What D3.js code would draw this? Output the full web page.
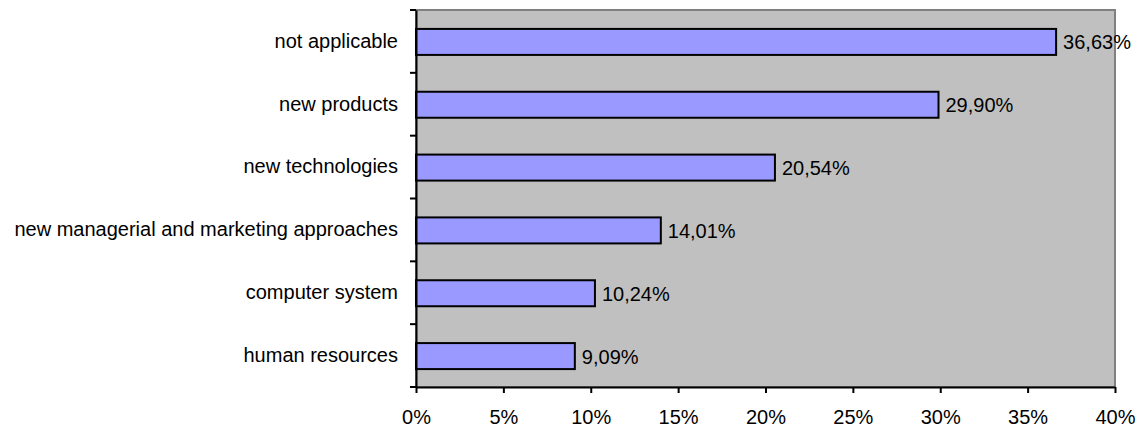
<!DOCTYPE html>
<html><head><meta charset="utf-8">
<script src="https://cdn.jsdelivr.net/npm/d3@7"></script>
<style>body{margin:0;background:#fff}svg{display:block;font-family:"Liberation Sans",Arial,sans-serif}</style>
</head><body><svg id="c" width="1141" height="430"></svg>
<script>
const categories = ["not applicable","new products","new technologies","new managerial and marketing approaches","computer system","human resources"];
const values = [36.63, 29.90, 20.54, 14.01, 10.24, 9.09];
const valueLabels = ["36,63%","29,90%","20,54%","14,01%","10,24%","9,09%"];
const xTicks = [0,5,10,15,20,25,30,35,40];

const svg = d3.select("#c");
const L=416, R=1115, T=10, B=387;
const FS = 20;
const x = d3.scaleLinear().domain([0,40]).range([L,R]);
const y = d3.scaleBand().domain(categories).range([T,B]).padding(0);
const barH = 26;

svg.append("rect").attr("x",L).attr("y",T).attr("width",R-L).attr("height",B-T)
  .attr("fill","#c0c0c0").attr("stroke","#808080").attr("stroke-width",2);

svg.selectAll("rect.bar").data(values).enter().append("rect").attr("class","bar")
  .attr("x",x(0)).attr("y",(d,i)=>y(categories[i])+(y.bandwidth()-barH)/2+0.5)
  .attr("width",d=>x(d)-x(0)).attr("height",barH)
  .attr("fill","#9999ff").attr("stroke","#000").attr("stroke-width",2);

svg.selectAll("text.vl").data(values).enter().append("text").attr("class","vl")
  .attr("x",d=>x(d)+7).attr("y",(d,i)=>y(categories[i])+y.bandwidth()/2+1)
  .attr("dy","0.35em").attr("font-size",FS).attr("fill","#000")
  .text((d,i)=>valueLabels[i]);

// x axis
const xa = svg.append("g").attr("transform",`translate(0,${B})`)
  .call(d3.axisBottom(x).tickValues(xTicks).tickFormat(d=>d+"%").tickSize(6).tickPadding(17).tickSizeOuter(0));
xa.select(".domain").attr("stroke","#000").attr("stroke-width",2);
xa.selectAll(".tick line").attr("stroke","#000").attr("stroke-width",2);
xa.selectAll("text").attr("font-size",FS).attr("fill","#000").attr("font-family","Liberation Sans, Arial, sans-serif");

// y axis
const ya = svg.append("g").attr("transform",`translate(${L},0)`)
  .call(d3.axisLeft(y).tickSize(0).tickPadding(18).tickSizeOuter(0));
ya.select(".domain").attr("stroke","#000").attr("stroke-width",2);
ya.selectAll("text").attr("font-size",FS).attr("fill","#000").attr("font-family","Liberation Sans, Arial, sans-serif");
const bounds = categories.map(c=>y(c)).concat([B]);
svg.selectAll("line.yt").data(bounds).enter().append("line").attr("class","yt")
  .attr("x1",L-6).attr("x2",L).attr("y1",d=>d).attr("y2",d=>d)
  .attr("stroke","#000").attr("stroke-width",2);
</script></body></html>
